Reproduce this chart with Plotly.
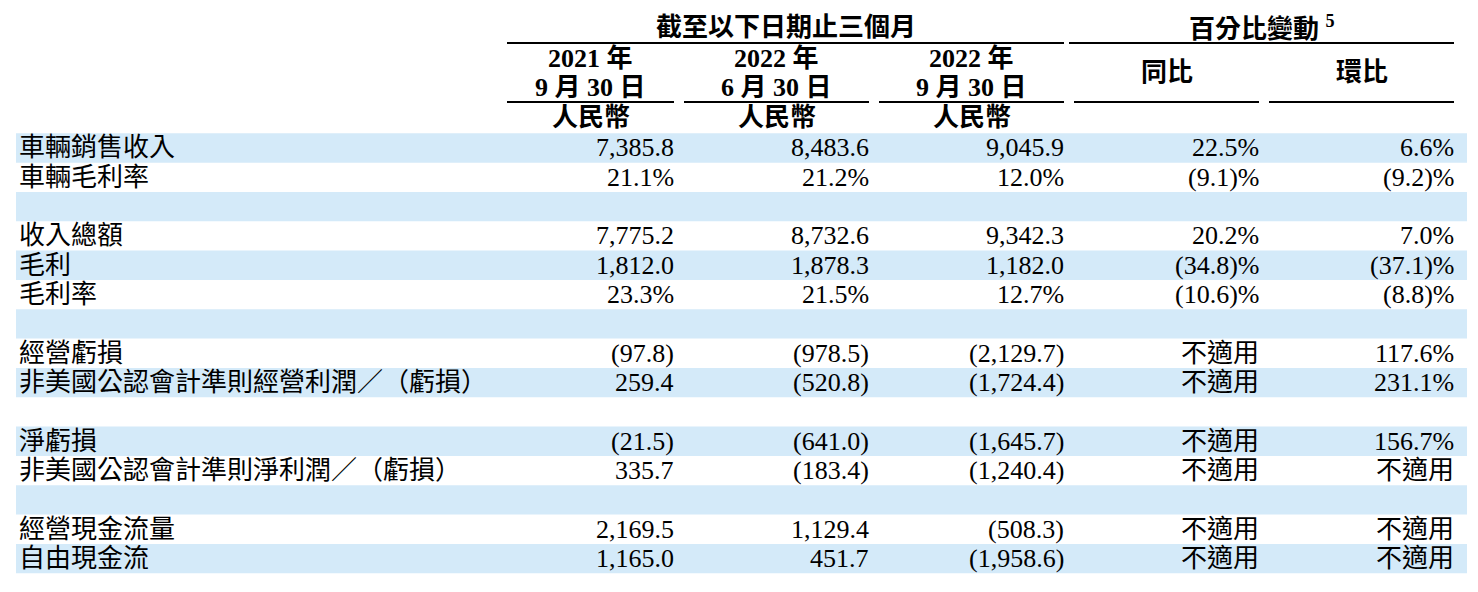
import plotly.graph_objects as go

# ---------------- data ----------------
row_labels = [
    "車輛銷售收入", "車輛毛利率", "",
    "收入總額", "毛利", "毛利率", "",
    "經營虧損", "非美國公認會計準則經營利潤／（虧損）", "",
    "淨虧損", "非美國公認會計準則淨利潤／（虧損）", "",
    "經營現金流量", "自由現金流",
]
row_kind = ["amt", "pct", None, "amt", "amt", "pct", None,
            "amt", "amt", None, "amt", "amt", None, "amt", "amt"]

q3_2021 = [7385.8, 21.1, None, 7775.2, 1812.0, 23.3, None,
           -97.8, 259.4, None, -21.5, 335.7, None, 2169.5, 1165.0]
q2_2022 = [8483.6, 21.2, None, 8732.6, 1878.3, 21.5, None,
           -978.5, -520.8, None, -641.0, -183.4, None, 1129.4, 451.7]
q3_2022 = [9045.9, 12.0, None, 9342.3, 1182.0, 12.7, None,
           -2129.7, -1724.4, None, -1645.7, -1240.4, None, -508.3, -1958.6]
yoy_change = [22.5, -9.1, None, 20.2, -34.8, -10.6, None,
              "n/a", "n/a", None, "n/a", "n/a", None, "n/a", "n/a"]
qoq_change = [6.6, -9.2, None, 7.0, -37.1, -8.8, None,
              117.6, 231.1, None, 156.7, "n/a", None, "n/a", "n/a"]

group_header_left = "截至以下日期止三個月"
group_header_right = "百分比變動 <sup>5</sup>"
period_years = ["2021 年", "2022 年", "2022 年"]
period_dates = ["9 月 30 日", "6 月 30 日", "9 月 30 日"]
currency_label = "人民幣"
change_headers = ["同比", "環比"]
na_text = "不適用"

# ---------------- formatting ----------------
def fmt_level(v, kind):
    if v is None:
        return ""
    if kind == "pct":
        return f"{v:.1f}%"
    s = f"{abs(v):,.1f}"
    return f"({s})" if v < 0 else s

def fmt_change(v):
    if v is None:
        return ""
    if v == "n/a":
        return na_text
    return f"({abs(v):.1f})%" if v < 0 else f"{v:.1f}%"

# ---------------- layout constants ----------------
W, H = 1478, 592
FONT = "Liberation Serif, 'Noto Sans CJK TC', serif"
FS = 26
ROW_TOP = 133.3
ROW_H = 29.33
STRIPE_X0, STRIPE_X1 = 16, 1467
LABEL_X = 18
seg = [(507, 674), (684, 869), (879, 1064), (1074, 1259), (1269, 1454)]
col_right = [s[1] + 1 for s in seg]
BLUE = "#D4EAF9"

fig = go.Figure()
shapes = []
annotations = []

def ann(x, y, text, xanchor="right", bold=False, size=FS):
    annotations.append(dict(
        x=x, y=y, xref="x", yref="y", text=(f"<b>{text}</b>" if bold else text),
        showarrow=False, xanchor=xanchor, yanchor="middle",
        font=dict(family=FONT, size=size, color="black"), borderpad=0,
    ))

# stripes
for i in range(len(row_labels)):
    if i % 2 == 0:
        shapes.append(dict(type="rect", xref="x", yref="y",
                           x0=STRIPE_X0, x1=STRIPE_X1,
                           y0=ROW_TOP + i * ROW_H, y1=ROW_TOP + (i + 1) * ROW_H,
                           fillcolor=BLUE, line=dict(width=0), layer="below"))

# header lines
def hline(x0, x1, y):
    shapes.append(dict(type="line", xref="x", yref="y", x0=x0, x1=x1, y0=y, y1=y,
                       line=dict(color="black", width=2)))

hline(seg[0][0], seg[2][1], 43)
hline(1069, seg[4][1], 43)
for s in seg:
    hline(s[0], s[1], 102)

# header texts
ann((seg[0][0] + seg[2][1]) / 2, 27, group_header_left, xanchor="center", bold=True)
ann((1069 + seg[4][1]) / 2, 27, group_header_right, xanchor="center", bold=True)
for j in range(3):
    cx = (seg[j][0] + seg[j][1]) / 2
    ann(cx, 58, period_years[j], xanchor="center", bold=True)
    ann(cx, 87, period_dates[j], xanchor="center", bold=True)
    ann(cx, 117, currency_label, xanchor="center", bold=True)
for j in range(2):
    cx = (seg[3 + j][0] + seg[3 + j][1]) / 2
    ann(cx, 72, change_headers[j], xanchor="center", bold=True)

# body
for i, lab in enumerate(row_labels):
    yc = ROW_TOP + (i + 0.5) * ROW_H
    if lab:
        ann(LABEL_X, yc, lab, xanchor="left")
    kind = row_kind[i]
    for j, col in enumerate([q3_2021, q2_2022, q3_2022]):
        t = fmt_level(col[i], kind)
        if t:
            ann(col_right[j], yc, t)
    for j, col in enumerate([yoy_change, qoq_change]):
        t = fmt_change(col[i])
        if t:
            ann(col_right[3 + j], yc, t)

# invisible trace to establish axes
fig.add_trace(go.Scatter(x=[0, W], y=[0, H], mode="markers",
                         marker=dict(opacity=0), hoverinfo="skip", showlegend=False))

fig.update_layout(
    width=W, height=H, margin=dict(l=0, r=0, t=0, b=0),
    paper_bgcolor="white", plot_bgcolor="white",
    xaxis=dict(range=[0, W], visible=False, fixedrange=True),
    yaxis=dict(range=[H, 0], visible=False, fixedrange=True),
    shapes=shapes, annotations=annotations, showlegend=False,
)

fig.write_html("out.html", config={"displayModeBar": False},
               post_script="document.body.style.margin='0';document.body.style.overflow='hidden';")
